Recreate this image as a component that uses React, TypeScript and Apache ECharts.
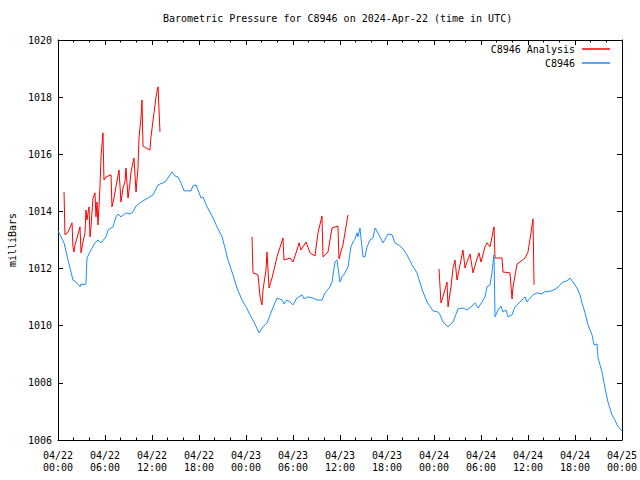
import React, { useEffect, useRef } from "react";
import * as echarts from "echarts";

// hours since 2024-04-22 00:00 UTC
const xTickLabels = [
  "04/22\n00:00", "04/22\n06:00", "04/22\n12:00", "04/22\n18:00",
  "04/23\n00:00", "04/23\n06:00", "04/23\n12:00", "04/23\n18:00",
  "04/24\n00:00", "04/24\n06:00", "04/24\n12:00", "04/24\n18:00",
  "04/25\n00:00",
];

const stationT = [
  0, 0.77, 1.28, 1.91, 2.3, 2.81, 2.94, 3.45, 3.57, 3.7, 4.21, 4.72, 5.11, 5.49, 6.13, 6.38,
  7.02, 7.4, 7.66, 8.04, 8.68, 9.19, 9.57, 9.96, 10.6, 11.49, 12.13, 12.77, 13.66, 14.04, 14.55,
  14.94, 15.32, 15.7, 16.09, 16.98, 17.23, 17.62, 17.87, 18.26, 18.51, 19.02, 19.4, 19.79, 20.3,
  20.94, 21.32, 21.7, 22.34, 22.85, 23.49, 24.0, 24.51, 25.02, 25.66, 26.17, 26.68, 27.32, 27.96,
  28.6, 28.85, 29.23, 29.62, 30.0, 30.51, 31.15, 31.4, 31.91, 32.55, 33.06, 33.7, 34.09, 34.72,
  34.98, 35.36, 35.62, 35.74, 36.0, 36.26, 36.64, 37.02, 37.4, 37.66, 37.91, 38.17, 38.3, 38.55,
  38.68, 38.94, 39.19, 39.45, 39.83, 40.21, 40.47, 40.85, 41.49, 42.13, 42.64, 43.02, 43.66,
  44.04, 44.55, 45.19, 45.83, 46.21, 46.6, 47.11, 47.87, 48.51, 48.77, 49.15, 49.79, 50.43,
  51.06, 51.7, 52.21, 52.85, 53.23, 53.62, 54.13, 54.51, 54.77, 55.15, 55.4, 55.53, 55.66, 55.79,
  56.17, 56.55, 56.81, 57.19, 57.45, 57.96, 58.34, 58.72, 59.23, 59.62, 59.87, 60.26, 60.64,
  61.15, 61.79, 62.04, 63.06, 63.7, 64.09, 64.47, 64.98, 65.36, 65.74, 66.26, 66.64, 66.89,
  67.28, 67.66, 68.17, 68.43, 68.81, 68.94, 69.45, 69.83, 70.21, 70.72, 71.11, 71.36, 71.74, 72.0,
];
const stationV = [
  1013.32, 1012.9, 1012.3, 1011.6, 1011.53, 1011.36, 1011.46, 1011.43, 1011.5, 1012.37, 1012.65,
  1012.9, 1013.0, 1012.9, 1013.11, 1013.35, 1013.46, 1013.81, 1013.91, 1013.81, 1013.95, 1013.91,
  1013.98, 1014.19, 1014.33, 1014.47, 1014.58, 1014.93, 1015.03, 1015.17, 1015.38, 1015.24,
  1015.21, 1015.0, 1014.72, 1014.72, 1014.89, 1014.93, 1014.75, 1014.47, 1014.51, 1014.16,
  1013.98, 1013.77, 1013.46, 1013.11, 1012.72, 1012.3, 1011.78, 1011.32, 1010.9, 1010.66,
  1010.38, 1010.13, 1009.75, 1009.96, 1010.1, 1010.55, 1010.97, 1010.9, 1010.76, 1010.9,
  1010.83, 1010.73, 1010.97, 1011.08, 1010.94, 1011.01, 1010.97, 1010.9, 1010.9, 1011.15,
  1011.36, 1011.53, 1012.23, 1012.3, 1012.06, 1011.53, 1011.71, 1011.85, 1012.06, 1012.76,
  1012.93, 1013.03, 1013.25, 1013.11, 1013.42, 1013.07, 1012.41, 1012.41, 1012.76, 1013.0,
  1013.07, 1013.42, 1013.25, 1012.9, 1013.21, 1013.18, 1012.9, 1012.79, 1012.69, 1012.48,
  1012.13, 1011.85, 1011.5, 1011.18, 1010.83, 1010.52, 1010.48, 1010.38, 1010.13, 1009.96,
  1010.13, 1010.59, 1010.62, 1010.55, 1010.69, 1010.8, 1010.62, 1010.83, 1011.01, 1011.36,
  1011.43, 1011.85, 1012.2, 1012.48, 1010.31, 1010.55, 1010.69, 1010.48, 1010.55, 1010.31,
  1010.38, 1010.66, 1010.76, 1010.9, 1011.01, 1010.83, 1010.97, 1011.08, 1011.15, 1011.11,
  1011.18, 1011.22, 1011.32, 1011.43, 1011.53, 1011.57, 1011.67, 1011.53, 1011.32, 1011.08,
  1010.8, 1010.45, 1010.03, 1009.68, 1009.33, 1009.36, 1008.87, 1008.38, 1007.82, 1007.33,
  1006.88, 1006.7, 1006.53, 1006.39, 1006.32,
];

const analysis1T = [
  0.77, 0.89, 1.28, 1.79, 1.91, 2.04, 2.17, 2.43, 2.81, 2.94, 3.19, 3.45, 3.57, 3.7, 3.96, 4.09,
  4.21, 4.47, 4.72, 4.85, 4.98, 5.11, 5.36, 5.49, 5.74, 5.87, 6.13, 6.77, 6.89, 7.15, 7.4, 7.79,
  8.04, 8.3, 8.55, 8.68, 8.94, 9.19, 9.32, 9.7, 9.96, 10.21, 10.34, 10.6, 10.72, 10.85, 11.23,
  11.74, 11.87, 12.26, 12.51, 12.77, 13.02,
];
const analysis1V = [
  1014.68, 1013.18, 1013.28, 1013.6, 1012.76, 1012.58, 1012.83, 1013.07, 1013.46, 1012.55,
  1012.93, 1013.25, 1014.05, 1013.7, 1014.16, 1013.11, 1013.46, 1014.47, 1014.65, 1013.81,
  1014.33, 1013.53, 1014.86, 1015.91, 1016.75, 1015.1, 1015.21, 1015.28, 1014.16, 1014.47,
  1014.86, 1015.45, 1014.33, 1014.82, 1015.03, 1015.52, 1014.47, 1015.0, 1015.38, 1015.87,
  1014.68, 1015.52, 1016.57, 1017.3, 1017.9, 1016.29, 1016.22, 1016.15, 1016.61, 1017.45,
  1018.01, 1018.36, 1016.78,
];

const analysis2T = [
  24.77, 24.89, 25.53, 25.79, 26.04, 26.17, 26.55, 26.68, 26.94, 27.32, 27.96, 28.72, 28.85,
  29.62, 30.0, 30.51, 30.77, 31.02, 31.66, 32.17, 32.81, 33.19, 33.7, 33.83, 34.47, 34.98, 35.74,
  35.87, 36.38, 37.02,
];
const analysis2V = [
  1013.11, 1011.85, 1011.78, 1011.01, 1010.73, 1011.25, 1011.95, 1012.58, 1011.32, 1011.67,
  1012.41, 1013.07, 1012.3, 1012.37, 1012.23, 1012.65, 1012.9, 1012.65, 1012.93, 1012.55,
  1012.44, 1013.25, 1013.84, 1012.41, 1012.58, 1013.42, 1013.49, 1012.34, 1012.83, 1013.88,
];

const analysis3T = [
  48.64, 48.89, 49.15, 49.66, 49.79, 50.17, 50.43, 50.68, 50.94, 51.19, 51.7, 51.96, 52.21, 52.6,
  52.98, 53.36, 53.74, 54.0, 54.51, 54.77, 55.15, 55.53, 55.66, 55.79, 56.68, 56.81, 57.7, 57.96,
  58.09, 58.6, 58.98, 59.62, 60.0, 60.38, 60.64, 60.77,
];
const analysis3V = [
  1011.99, 1010.8, 1011.01, 1011.53, 1010.66, 1011.36, 1012.02, 1012.3, 1011.6, 1011.95,
  1012.65, 1012.02, 1012.23, 1012.51, 1011.85, 1012.23, 1012.55, 1012.23, 1012.76, 1012.9,
  1012.76, 1013.28, 1013.46, 1012.37, 1012.37, 1011.88, 1011.85, 1010.94, 1011.36, 1012.16,
  1012.23, 1012.37, 1012.58, 1013.25, 1013.74, 1011.43,
];

const ANALYSIS = "C8946 Analysis";
const STATION = "C8946";
const FONT = "DejaVu Sans Mono";
const RED = "#ff0000";
const BLUE = "#1a8cff";

const zip = (t: number[], v: number[]) => t.map((x, i) => [x, v[i]]);

export default function App() {
  const ref = useRef<HTMLDivElement>(null);
  useEffect(() => {
    if (!ref.current) return;
    const chart = echarts.init(ref.current, null, { renderer: "svg" });
    const xCommon = {
      type: "value",
      min: 0,
      max: 72,
      interval: 6,
      axisLine: { show: true, onZero: false, lineStyle: { color: "#000", width: 1 } },
      axisTick: { show: true, inside: true, length: 5, lineStyle: { color: "#000" } },
      minorTick: { show: true, splitNumber: 3, length: 2.5, lineStyle: { color: "#000" } },
      splitLine: { show: false },
    };
    const yCommon = {
      type: "value",
      min: 1006,
      max: 1020,
      interval: 2,
      axisLine: { show: true, onZero: false, lineStyle: { color: "#000", width: 1 } },
      axisTick: { show: true, inside: true, length: 5, lineStyle: { color: "#000" } },
      splitLine: { show: false },
    };
    const redLine = (t: number[], v: number[]) => ({
      name: ANALYSIS,
      type: "line",
      data: zip(t, v),
      symbol: "none",
      lineStyle: { color: RED, width: 1 },
      itemStyle: { color: RED },
      xAxisIndex: 0,
      yAxisIndex: 0,
    });
    const legendCommon = {
      orient: "vertical",
      right: 30,
      align: "right",
      icon: "rect",
      itemWidth: 28,
      itemHeight: 1.5,
      itemGap: 0,
      textStyle: { fontFamily: FONT, fontSize: 10, color: "#000", padding: [0, 2, 0, 0] },
      padding: 0,
    };
    chart.setOption({
      animation: false,
      backgroundColor: "#fff",
      title: {
        text: "Barometric Pressure for C8946 on 2024-Apr-22 (time in UTC)",
        left: 163,
        top: 13,
        padding: 0,
        textStyle: { fontFamily: FONT, fontSize: 10, fontWeight: "normal", color: "#000" },
      },
      legend: [
        { ...legendCommon, top: 44, data: [ANALYSIS] },
        { ...legendCommon, top: 58, data: [STATION] },
      ],
      grid: { left: 58, right: 18, top: 40, bottom: 40, containLabel: false, outerBoundsMode: "none" },
      xAxis: [
        {
          ...xCommon,
          position: "bottom",
          axisLabel: {
            fontFamily: FONT,
            fontSize: 10,
            color: "#000",
            lineHeight: 12,
            margin: 9,
            formatter: (val: number) => xTickLabels[Math.round(val / 6)] ?? "",
          },
        },
        { ...xCommon, position: "top", axisLabel: { show: false } },
      ],
      yAxis: [
        {
          ...yCommon,
          position: "left",
          name: "milliBars",
          nameLocation: "middle",
          nameRotate: 90,
          nameGap: 41,
          nameTextStyle: { fontFamily: FONT, fontSize: 10, color: "#000" },
          axisLabel: {
            fontFamily: FONT,
            fontSize: 10,
            color: "#000",
            margin: 6,
            formatter: (val: number) => String(val),
          },
        },
        { ...yCommon, position: "right", axisLabel: { show: false } },
      ],
      series: [
        redLine(analysis1T, analysis1V),
        redLine(analysis2T, analysis2V),
        redLine(analysis3T, analysis3V),
        {
          name: STATION,
          type: "line",
          data: zip(stationT, stationV),
          symbol: "none",
          lineStyle: { color: BLUE, width: 1 },
          itemStyle: { color: BLUE },
          xAxisIndex: 0,
          yAxisIndex: 0,
        },
      ],
    });
    return () => chart.dispose();
  }, []);
  return (
    <div
      ref={ref}
      style={{ position: "absolute", left: 0, top: 0, width: 640, height: 480 }}
    />
  );
}
